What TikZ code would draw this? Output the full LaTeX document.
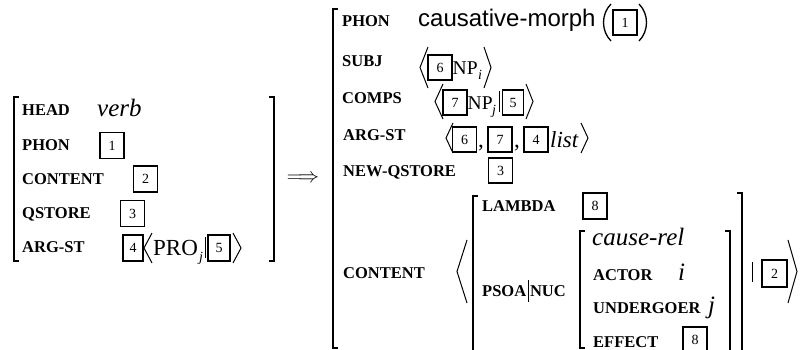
\documentclass[tikz,border=0pt]{standalone}
\usepackage{fontspec}
\setmainfont{Liberation Serif}
\newfontfamily\avmsans{Liberation Sans}
\tikzset{
  feat/.style={anchor=base west, inner sep=0pt, font=\fontsize{16.5}{18}\selectfont\bfseries},
  typ/.style={anchor=base west, inner sep=0pt, font=\fontsize{25}{26}\selectfont\itshape},
  rom/.style={anchor=base west, inner sep=0pt, font=\fontsize{23}{24}\selectfont},
  nproj/.style={anchor=base west, inner sep=0pt, font=\fontsize{19.5}{20}\selectfont},
  subsc/.style={anchor=base west, inner sep=0pt, font=\fontsize{14}{14}\selectfont\itshape},
  tagbx/.style={draw, line width=1.7pt, minimum width=24pt, minimum height=26pt,
    inner sep=0pt, font=\fontsize{14}{14}\selectfont},
  brk/.style={line width=1.8pt},
  ang/.style={line width=1pt, line join=miter},
  bar/.style={line width=0.8pt},
}
\begin{document}
\begin{tikzpicture}[x=1pt,y=-1pt]
\useasboundingbox (0,0) rectangle (800,350);

% ---------- input AVM ----------
\draw[brk] (19,97) -- (14,97) -- (14,261) -- (19,261);
\draw[brk] (269,97) -- (274,97) -- (274,261) -- (269,261);
\node[feat] (lhead) at (22,116) {HEAD};
\node[typ]  (lverb) at (97,117) {verb};
\node[feat] (lphon) at (22,150) {PHON};
\node[tagbx] (lt1) at (112,145.5) {1};
\node[feat] (lcont) at (22,184) {CONTENT};
\node[tagbx] (lt2) at (145.5,179) {2};
\node[feat] (lqst) at (22,218) {QSTORE};
\node[tagbx] (lt3) at (132.5,213.5) {3};
\node[feat] (larg) at (22,252) {ARG-ST};
\node[tagbx, minimum width=20pt] (lt4) at (133,248) {4};
\draw[ang] (152,233) -- (144,248) -- (152,263);
\node[rom] (lpro) at (153,255) {PRO};
\node[subsc] (lj) at (199,261) {j};
\draw[bar] (205,237) -- (205,258);
\node[tagbx, minimum width=22pt] (lt5) at (219,248) {5};
\draw[ang] (233,233) -- (241,248) -- (233,263);

% ---------- rule arrow ----------
\node[inner sep=0pt, font=\fontsize{20.5}{21}\selectfont] (arr) at (303,179) {$\Longrightarrow$};

% ---------- output AVM ----------
\draw[brk] (338,9) -- (333,9) -- (333,348) -- (338,348);

\node[feat] (rphon) at (342,27) {PHON};
\node[anchor=base west, inner sep=0pt, font=\avmsans\fontsize{24}{25}\selectfont] (morph) at (418,27) {causative-morph};
\draw[ang, line width=1.3pt] (611,4) .. controls (601,14) and (601,31) .. (611,41);
\node[tagbx, minimum height=25pt] (rt1) at (625,22.5) {1};
\draw[ang, line width=1.3pt] (639,4) .. controls (649,14) and (649,31) .. (639,41);

\node[feat] (rsubj) at (342,67) {SUBJ};
\draw[ang] (428,47) -- (420,67.5) -- (428,88);
\node[tagbx, minimum height=25pt] (rt6a) at (440,67.5) {6};
\node[nproj] (np1) at (452.5,75) {NP};
\node[subsc] (ni) at (478,80) {i};
\draw[ang] (484,47) -- (491,67.5) -- (484,88);

\node[feat] (rcomps) at (342,104) {COMPS};
\draw[ang] (443,84) -- (435,101.5) -- (443,119);
\node[tagbx, minimum height=25pt] (rt7a) at (455,102.5) {7};
\node[nproj] (np2) at (467.5,110) {NP};
\node[subsc] (nj) at (492,115) {j};
\draw[bar] (499,91) -- (499,112);
\node[tagbx, minimum width=21pt, minimum height=25pt] (rt5) at (513,102.5) {5};
\draw[ang] (526,84) -- (533,101.5) -- (526,119);

\node[feat] (rarg) at (343,141) {ARG-ST};
\draw[ang] (453,123) -- (446,138) -- (453,153);
\node[tagbx, minimum height=25pt] (rt6b) at (464.5,139.5) {6};
\node[rom] (c1) at (478,147) {,};
\node[tagbx, minimum height=25pt] (rt7b) at (500,139.5) {7};
\node[rom] (c2) at (514,147) {,};
\node[tagbx, minimum height=25pt] (rt4) at (536,139.5) {4};
\node[typ, font=\fontsize{23}{24}\selectfont\itshape] (lst) at (550,147) {list};
\draw[ang] (581,123) -- (588,138) -- (581,153);

\node[feat] (rnq) at (343,176) {NEW-QSTORE};
\node[tagbx, minimum height=25pt] (rt3) at (500.5,170.5) {3};

\node[feat] (rcont) at (343,278) {CONTENT};
\draw[ang] (467,240) -- (457,271.5) -- (467,303);

% content value
\draw[brk] (478,196) -- (473,196) -- (473,352);
\node[feat] (lam) at (482,211) {LAMBDA};
\node[tagbx] (rt8a) at (595,206) {8};
\node[feat] (psoa) at (482,296) {PSOA\hspace{1.5pt}\rule[-6pt]{0.8pt}{22pt}\hspace{1.5pt}NUC};

% nucleus
\draw[brk] (585,231) -- (580,231) -- (580,348) -- (585,348);
\node[typ] (crel) at (592,245) {cause-rel};
\node[feat] (act) at (593,280) {ACTOR};
\node[typ] (vi) at (678,280) {i};
\node[feat] (und) at (593,313) {UNDERGOER};
\node[typ] (vj) at (708,313) {j};
\node[feat] (eff) at (593,347) {EFFECT};
\node[tagbx] (rt8b) at (695,340) {8};
\draw[brk] (725,231) -- (730,231) -- (730,352);

\draw[brk] (737,193) -- (742,193) -- (742,352);
\draw[bar] (752,262) -- (752,282);
\node[tagbx, minimum width=25pt, minimum height=27pt] (rt2) at (774.5,273.5) {2};
\draw[ang] (788,240) -- (797,271.5) -- (788,303);
\end{tikzpicture}
\end{document}
